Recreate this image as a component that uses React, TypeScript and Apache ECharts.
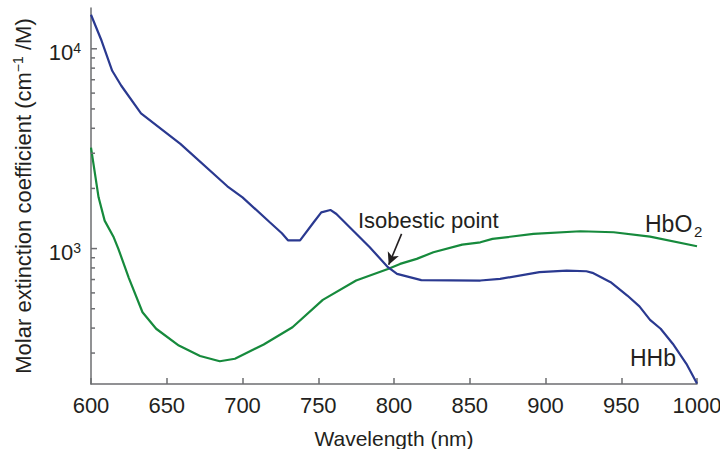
import React, { useEffect, useRef } from "react";
import * as echarts from "echarts";

// HHb (deoxyhaemoglobin) spectrum: wavelength (nm) and molar extinction coefficient
const hhbWavelengths = [600, 607, 614, 620, 633, 659, 690, 700, 718, 726, 730, 738, 747, 752, 758, 762, 784, 796, 802, 818, 857, 870, 896, 914, 927, 931, 943, 954, 962, 969, 976, 984, 993, 1000];
const hhbValues = [14800, 10965, 7762, 6530, 4750, 3340, 2050, 1805, 1354, 1193, 1100, 1100, 1354, 1518, 1561, 1490, 1015, 807, 747, 695, 692, 705, 762, 776, 770, 756, 679, 582, 514, 440, 397, 334, 265, 211];

// HbO2 (oxyhaemoglobin) spectrum
const hbo2Wavelengths = [600, 605, 609, 615, 618, 625, 634, 643, 658, 672, 685, 695, 714, 733, 753, 775, 796, 804, 815, 826, 845, 857, 865, 892, 923, 945, 969, 1000];
const hbo2Values = [3200, 1805, 1380, 1139, 1000, 712, 480, 397, 327, 290, 273, 281, 331, 404, 554, 692, 791, 838, 888, 959, 1047, 1075, 1118, 1184, 1221, 1207, 1148, 1027];

// Y-axis (log) tick values: majors 10^3, 10^4 plus minor ticks
const yTickValues = [300, 400, 500, 600, 700, 800, 900, 1000, 2000, 3000, 4000, 5000, 6000, 7000, 8000, 9000, 10000];

// Isobestic arrow (tail -> tip), in data space
const arrowTail = [805, 1184];
const arrowTip = [796.5, 830];

const FONT = "'Liberation Sans', Arial, Helvetica, sans-serif";
const TEXT = "#231f20";
const AXIS = "#6d6e71";
const BLUE = "#2a3990";
const GREEN = "#168a3c";

const zip = (xs: number[], ys: number[]) => xs.map((x, i) => [x, ys[i]]);
const isPow10 = (v: number) => Math.abs(Math.log10(v) - Math.round(Math.log10(v))) < 1e-6;

export default function App() {
  const ref = useRef<HTMLDivElement>(null);
  useEffect(() => {
    if (!ref.current) return;
    const chart = echarts.init(ref.current, undefined, { renderer: "svg" });
    chart.setOption({
      animation: false,
      backgroundColor: "#ffffff",
      grid: { left: 91, right: 23, top: 8, bottom: 65, containLabel: false, outerBoundsMode: "none" },
      xAxis: {
        type: "value",
        min: 600,
        max: 1000,
        interval: 50,
        name: "Wavelength (nm)",
        nameLocation: "middle",
        nameGap: 44,
        nameTextStyle: { fontFamily: FONT, fontSize: 21, color: TEXT },
        axisLine: { show: true, lineStyle: { color: AXIS, width: 1.5 } },
        axisTick: { show: true, inside: true, length: 6, lineStyle: { color: AXIS, width: 1.5 } },
        axisLabel: {
          fontFamily: FONT,
          fontSize: 22,
          color: TEXT,
          margin: 10,
          formatter: (v: number) => String(Math.round(v)),
        },
        splitLine: { show: false },
      },
      yAxis: {
        type: "log",
        min: 210,
        max: 16000,
        logBase: 10,
        name: "{a|Molar extinction coefficient (cm}{s|−1}{a| /M)}",
        nameLocation: "middle",
        nameRotate: 90,
        nameGap: 56,
        nameTextStyle: {
          fontFamily: FONT,
          color: TEXT,
          rich: {
            a: { fontFamily: FONT, fontSize: 22, color: TEXT, lineHeight: 24 },
            s: { fontFamily: FONT, fontSize: 14, color: TEXT, lineHeight: 14, verticalAlign: "top" },
          },
        },
        axisLine: { show: true, lineStyle: { color: AXIS, width: 1.5 } },
        axisTick: { show: false },
        minorTick: { show: false },
        splitLine: { show: false },
        axisLabel: {
          margin: 10,
          padding: [8, 0, 0, 0],
          formatter: (v: number) => (isPow10(v) ? `{n|10}{s|${Math.round(Math.log10(v))}}` : ""),
          rich: {
            n: { fontFamily: FONT, fontSize: 22, color: TEXT, lineHeight: 24 },
            s: { fontFamily: FONT, fontSize: 14, color: TEXT, lineHeight: 14, verticalAlign: "top" },
          },
        },
      },
      series: [
        {
          type: "line",
          name: "HHb",
          data: zip(hhbWavelengths, hhbValues),
          showSymbol: false,
          smooth: false,
          lineStyle: { color: BLUE, width: 2.2 },
          itemStyle: { color: BLUE },
          silent: true,
          z: 3,
        },
        {
          type: "line",
          name: "HbO2",
          data: zip(hbo2Wavelengths, hbo2Values),
          showSymbol: false,
          smooth: false,
          lineStyle: { color: GREEN, width: 2.2 },
          itemStyle: { color: GREEN },
          silent: true,
          z: 2,
          markLine: {
            silent: true,
            symbol: ["none", "arrow"],
            symbolSize: [9, 12],
            label: { show: false },
            lineStyle: { color: TEXT, width: 1.6, type: "solid" },
            data: [[{ coord: arrowTail }, { coord: arrowTip }]],
            z: 5,
          },
        },
        {
          type: "custom",
          name: "yticks",
          silent: true,
          clip: false,
          data: yTickValues.map((v) => [600, v]),
          renderItem: (_params: any, api: any) => {
            const v = api.value(1);
            const p = api.coord([api.value(0), v]);
            const len = isPow10(v) ? 6 : 4;
            return {
              type: "line",
              shape: { x1: p[0], y1: p[1], x2: p[0] + len, y2: p[1] },
              style: { stroke: AXIS, lineWidth: 1.5 },
            };
          },
          z: 4,
        },
      ],
      graphic: [
        {
          type: "text",
          left: 358,
          top: 209,
          style: { text: "Isobestic point", fontFamily: FONT, fontSize: 22, fill: TEXT },
        },
        {
          type: "text",
          left: 645,
          top: 212,
          style: { text: "HbO", fontFamily: FONT, fontSize: 23, fill: TEXT },
        },
        {
          type: "text",
          left: 694,
          top: 224,
          style: { text: "2", fontFamily: FONT, fontSize: 15, fill: TEXT },
        },
        {
          type: "text",
          left: 630,
          top: 346,
          style: { text: "HHb", fontFamily: FONT, fontSize: 23, fill: TEXT },
        },
      ],
    });
    return () => chart.dispose();
  }, []);
  return (
    <div
      ref={ref}
      style={{ position: "fixed", left: 0, top: 0, width: 720, height: 449, background: "#fff" }}
    />
  );
}
